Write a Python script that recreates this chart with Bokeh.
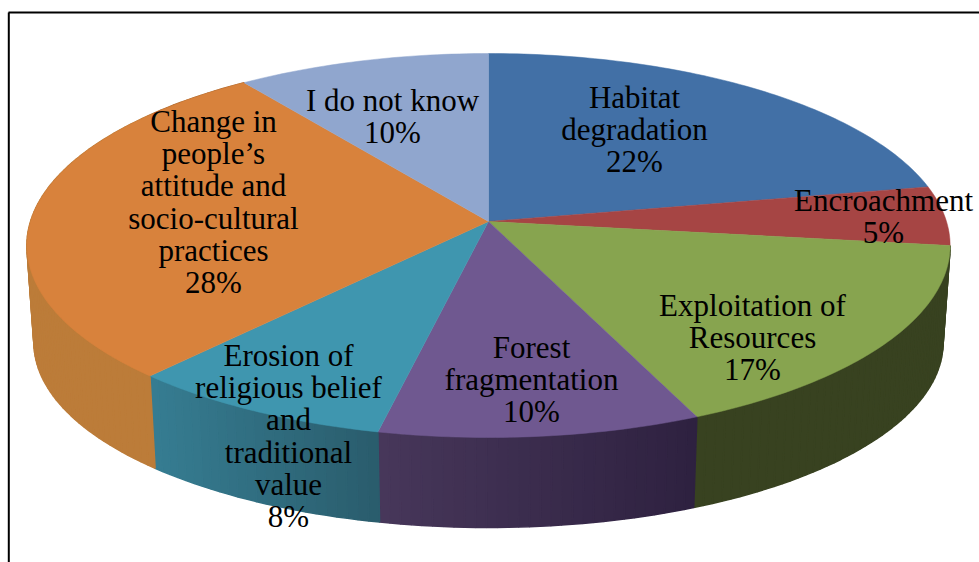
import math
from bokeh.plotting import figure
from bokeh.embed import file_html
from bokeh.resources import INLINE
from bokeh.core.properties import value

categories = ["Habitat degradation", "Encroachment", "Exploitation of Resources",
              "Forest fragmentation", "Erosion of religious belief and traditional value",
              "Change in people's attitude and socio-cultural practices", "I do not know"]
shares = [22.0, 5.0, 16.4, 10.0, 8.3, 28.3, 10.0]
pct_labels = ["22%", "5%", "17%", "10%", "8%", "28%", "10%"]

label_lines = [
    ["Habitat", "degradation"],
    ["Encroachment"],
    ["Exploitation of", "Resources"],
    ["Forest", "fragmentation"],
    ["Erosion of", "religious belief", "and", "traditional", "value"],
    ["Change in", "people\u2019s", "attitude and", "socio-cultural", "practices"],
    ["I do not know"],
]
label_anchor = [(634, 97), (883, 200), (752, 305), (531, 347), (288, 355), (213, 121), (392, 100)]

top_colors = ["#4270A6", "#A64544", "#87A44F", "#6F5890", "#3F96AF", "#D8823C", "#90A6CE"]
wall_colors = [(None, None), (None, None), ("#384220", "#384220"), ("#2E2140", "#47375A"),
               ("#2A5C6C", "#367D92"), ("#AD6B33", "#BC7C39"), (None, None)]

CX, TOP_Y0, TOP_B, TOP_R = 488, 221, 189, 458
BOT_Y0, BOT_B, BOT_R = 319, 182, 451
C = 0.125
LINE_H = 32.2


def project(frac, y0, b, r):
    t = 2 * math.pi * frac
    X, Y = math.sin(t), -math.cos(t)
    den = 1 - C * Y
    return CX + r * X / den, y0 + b * Y / den


def mix(a, b, u):
    ca = [int(a[i:i + 2], 16) for i in (1, 3, 5)]
    cb = [int(b[i:i + 2], 16) for i in (1, 3, 5)]
    return "#%02x%02x%02x" % tuple(round(x + (y - x) * u) for x, y in zip(ca, cb))


p = figure(width=979, height=562, x_range=(0, 979), y_range=(562, 0),
           toolbar_location=None, output_backend="svg", min_border=0,
           outline_line_color=None, background_fill_color="white", border_fill_color="white")
p.axis.visible = False
p.grid.visible = False

total = sum(shares)
edges = [0.0]
for s in shares:
    edges.append(edges[-1] + s / total)

# side walls
wx, wy, wc = [], [], []
for i, (c_right, c_left) in enumerate(wall_colors):
    if c_right is None:
        continue
    a, b = edges[i], edges[i + 1]
    n = max(8, int((b - a) * 300))
    x_first = project(a, TOP_Y0, TOP_B, TOP_R)[0]
    x_last = project(b, TOP_Y0, TOP_B, TOP_R)[0]
    for k in range(n):
        f0, f1 = a + (b - a) * k / n, a + (b - a) * (k + 1) / n
        x0, y0 = project(f0, TOP_Y0, TOP_B, TOP_R)
        x1, y1 = project(f1, TOP_Y0, TOP_B, TOP_R)
        x2, y2 = project(f1, BOT_Y0, BOT_B, BOT_R)
        x3, y3 = project(f0, BOT_Y0, BOT_B, BOT_R)
        wx.append([x0, x1, x2, x3])
        wy.append([y0, y1, y2, y3])
        u = (x_first - (x0 + x1) / 2) / max(1e-6, x_first - x_last)
        wc.append(mix(c_right, c_left, max(0.0, min(1.0, u))))
p.patches(wx, wy, fill_color=wc, line_color=wc, line_width=1.5)

# top face
tx, ty = [], []
for i in range(len(shares)):
    a, b = edges[i], edges[i + 1]
    n = max(6, int((b - a) * 360))
    pts = [project(a + (b - a) * k / n, TOP_Y0, TOP_B, TOP_R) for k in range(n + 1)]
    tx.append([CX] + [q[0] for q in pts])
    ty.append([TOP_Y0] + [q[1] for q in pts])
p.patches(tx, ty, fill_color=top_colors, line_color=top_colors, line_width=0.5)

# frame of the picture
p.segment(x0=[8, 8.3], y0=[12, 12], x1=[979, 8.3], y1=[12, 562], line_color="black", line_width=2)

# labels
xs, ys, texts = [], [], []
for lines, pct, (ax, ay) in zip(label_lines, pct_labels, label_anchor):
    for j, t in enumerate(lines + [pct]):
        xs.append(ax)
        ys.append(ay + j * LINE_H)
        texts.append(t)
p.text(xs, ys, text=texts, text_font=value("Liberation Serif"), text_font_size="31px",
       text_color="black", text_align="center", text_baseline="middle")

open("out.html", "w").write(file_html(p, INLINE))
